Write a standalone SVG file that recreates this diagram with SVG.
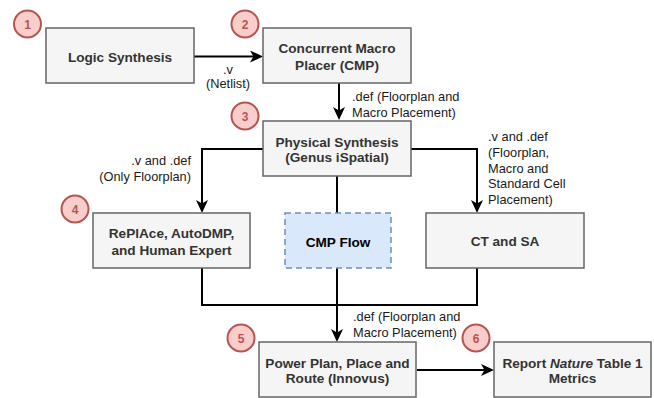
<svg xmlns="http://www.w3.org/2000/svg" width="654" height="398" viewBox="0 0 654 398">
<style>
.box{fill:#f5f5f5;stroke:#666666;stroke-width:1.5}
.flow{fill:#dae8fc;stroke:#6c8ebf;stroke-width:1.5;stroke-dasharray:6 4}
.bt{font-family:"Liberation Sans",Arial,sans-serif;font-weight:bold;font-size:13.6px;fill:#333333;text-anchor:middle}
.ft{font-family:"Liberation Sans",Arial,sans-serif;font-weight:bold;font-size:13.6px;fill:#000000;text-anchor:middle}
.lbl{font-family:"Liberation Sans",Arial,sans-serif;font-size:12.8px;fill:#1a1a1a}
.num circle{fill:#f8cecc;stroke:#b85450;stroke-width:2}
.num text{font-family:"Liberation Sans",Arial,sans-serif;font-weight:bold;font-size:12px;fill:#b85450;text-anchor:middle}
.edge{fill:none;stroke:#000000;stroke-width:2}
</style>
<defs>
<marker id="arr" markerUnits="userSpaceOnUse" viewBox="0 0 13 12" refX="10" refY="6" markerWidth="13" markerHeight="12" orient="auto">
<path d="M0,0 L13,6 L0,12 L3.5,6 Z" fill="#000000"/>
</marker>
</defs>
<rect width="654" height="398" fill="#ffffff"/>

<g id="connectors">
<path class="edge" d="M194,56.5 H260" marker-end="url(#arr)"/>
<path class="edge" d="M339,83 V117" marker-end="url(#arr)"/>
<path class="edge" d="M263,149 H202 V210" marker-end="url(#arr)"/>
<path class="edge" d="M411,149 H477 V210" marker-end="url(#arr)"/>
<path class="edge" d="M337,176 V213"/>
<path class="edge" d="M202,268 V305 H477 V268"/>
<path class="edge" d="M337,268 V339" marker-end="url(#arr)"/>
<path class="edge" d="M417,370 H491" marker-end="url(#arr)"/>
</g>

<g id="edge-labels">
<text class="lbl" x="228" y="74" text-anchor="middle">.v</text>
<text class="lbl" x="228" y="88" text-anchor="middle">(Netlist)</text>
<text class="lbl" x="352" y="101">.def (Floorplan and</text>
<text class="lbl" x="352" y="117">Macro Placement)</text>
<text class="lbl" x="191" y="165" text-anchor="end">.v and .def</text>
<text class="lbl" x="191" y="181" text-anchor="end">(Only Floorplan)</text>
<text class="lbl" x="488" y="141">.v and .def</text>
<text class="lbl" x="488" y="157">(Floorplan,</text>
<text class="lbl" x="488" y="173">Macro and</text>
<text class="lbl" x="488" y="188">Standard Cell</text>
<text class="lbl" x="488" y="204">Placement)</text>
<text class="lbl" x="353" y="321">.def (Floorplan and</text>
<text class="lbl" x="353" y="337">Macro Placement)</text>
</g>

<g id="logic-synthesis">
<rect class="box" x="46" y="28" width="148" height="55"/>
<text class="bt" x="120" y="62">Logic Synthesis</text>
</g>
<g id="cmp">
<rect class="box" x="263" y="28" width="148" height="55"/>
<text class="bt" x="337" y="53">Concurrent Macro</text>
<text class="bt" x="337" y="70">Placer (CMP)</text>
</g>
<g id="physical-synthesis">
<rect class="box" x="263" y="121" width="148" height="55"/>
<text class="bt" x="337" y="146.5">Physical Synthesis</text>
<text class="bt" x="337" y="162">(Genus iSpatial)</text>
</g>
<g id="replace">
<rect class="box" x="93" y="213" width="157" height="55"/>
<text class="bt" x="171.5" y="238">RePlAce, AutoDMP,</text>
<text class="bt" x="171.5" y="255">and Human Expert</text>
</g>
<g id="cmp-flow">
<rect class="flow" x="285" y="213" width="106" height="55"/>
<text class="ft" x="338" y="247">CMP Flow</text>
</g>
<g id="ct-sa">
<rect class="box" x="426" y="213" width="158" height="55"/>
<text class="bt" x="505" y="245.5">CT and SA</text>
</g>
<g id="innovus">
<rect class="box" x="259" y="342" width="157" height="55"/>
<text class="bt" x="337.5" y="368">Power Plan, Place and</text>
<text class="bt" x="337.5" y="383">Route (Innovus)</text>
</g>
<g id="report">
<rect class="box" x="494" y="342" width="157" height="55"/>
<text class="bt" x="572.5" y="368">Report <tspan font-style="italic">Nature</tspan> Table 1</text>
<text class="bt" x="572.5" y="383">Metrics</text>
</g>

<g id="step-1" class="num"><circle cx="27.5" cy="24" r="13.5"/><text x="27.5" y="28.5">1</text></g>
<g id="step-2" class="num"><circle cx="245" cy="24" r="13.5"/><text x="245" y="28.5">2</text></g>
<g id="step-3" class="num"><circle cx="245" cy="116" r="13.5"/><text x="245" y="120.5">3</text></g>
<g id="step-4" class="num"><circle cx="75" cy="209" r="13.5"/><text x="75" y="213.5">4</text></g>
<g id="step-5" class="num"><circle cx="241" cy="338" r="13.5"/><text x="241" y="342.5">5</text></g>
<g id="step-6" class="num"><circle cx="476" cy="338" r="13.5"/><text x="476" y="342.5">6</text></g>
</svg>
